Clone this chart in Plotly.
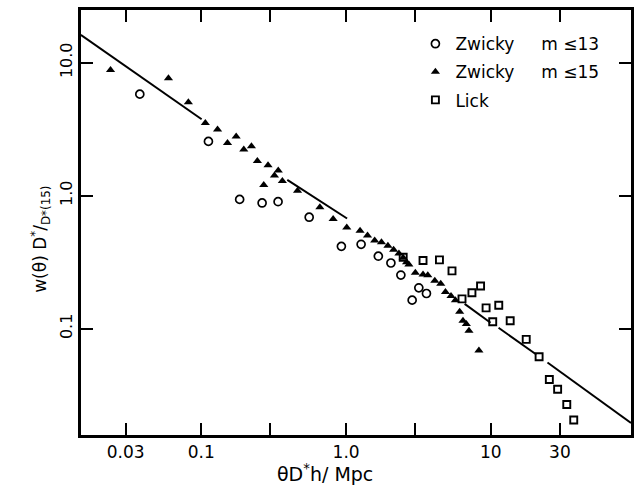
import plotly.graph_objects as go

# Zwicky m<=13 (open circles)
circ_x = [0.0376, 0.112, 0.184, 0.263, 0.339, 0.556, 0.928, 1.27, 1.67, 2.04, 2.39, 2.86, 3.18, 3.59]
circ_y = [5.80, 2.56, 0.938, 0.882, 0.902, 0.689, 0.416, 0.431, 0.351, 0.312, 0.253, 0.164, 0.203, 0.184]

# Zwicky m<=15 (filled triangles)
tri_x = [0.0236, 0.0593, 0.0814, 0.1066, 0.1295, 0.1517, 0.1741, 0.1965, 0.222, 0.244, 0.289,
         0.340, 0.320, 0.363, 0.270, 0.462, 0.659, 0.814, 1.011, 1.249, 1.406, 1.576, 1.755,
         1.945, 2.13, 2.317, 2.48, 2.617, 2.714, 3.008, 3.40, 3.667, 4.10, 4.506, 4.857, 5.305,
         5.69, 6.09, 6.42, 6.77, 7.06, 8.27]
tri_y = [8.82, 7.63, 5.03, 3.52, 3.15, 2.49, 2.79, 2.22, 2.35, 1.825, 1.695,
         1.545, 1.418, 1.287, 1.202, 1.09, 0.818, 0.668, 0.577, 0.545, 0.503, 0.461, 0.446,
         0.421, 0.393, 0.367, 0.342, 0.316, 0.304, 0.264, 0.256, 0.252, 0.229, 0.218, 0.189, 0.176,
         0.164, 0.134, 0.1147, 0.1084, 0.0966, 0.0685]

# Lick (open squares)
sq_x = [2.48, 3.40, 4.415, 5.39, 6.32, 7.40, 8.49, 9.27, 11.34, 10.30, 13.60, 17.55, 21.54,
        25.35, 28.92, 33.45, 37.37]
sq_y = [0.345, 0.326, 0.329, 0.272, 0.1675, 0.1866, 0.2094, 0.1434, 0.1502, 0.1128, 0.1147,
        0.0832, 0.0616, 0.0415, 0.0351, 0.0269, 0.0206]

# Power-law fit line, drawn in broken segments
line_x = [0.0147, 0.1005, None, 0.3926, 1.016, None, 6.59, 9.95, None, 11.3, 20.6, None, 24.6, 92.9]
line_y = [16.2, 3.755, None, 1.316, 0.674, None, 0.1537, 0.111, None, 0.1017, 0.064, None, 0.0557, 0.01955]

x_tickvals = [0.03, 0.1, 0.3, 1, 3, 10, 30]
x_ticktext = ["0.03", "0.1", "", "1.0", "", "10", "30"]
y_tickvals = [0.1, 1, 10]
y_ticktext = ["0.1", "1.0", "10.0"]

legend_names = ["Zwicky&nbsp;&nbsp;&nbsp;&nbsp;&nbsp;m ≤13",
                "Zwicky&nbsp;&nbsp;&nbsp;&nbsp;&nbsp;m ≤15",
                "Lick"]

FONT = "DejaVu Sans"

fig = go.Figure()
fig.add_trace(go.Scatter(x=line_x, y=line_y, mode="lines", line=dict(color="black", width=2),
                         showlegend=False, connectgaps=False))
fig.add_trace(go.Scatter(x=circ_x, y=circ_y, mode="markers", name=legend_names[0], legendgroup="a",
                         marker=dict(symbol="circle-open", size=8, color="black", line=dict(width=1.7))))
fig.add_trace(go.Scatter(x=tri_x, y=tri_y, mode="markers", name=legend_names[1], legendgroup="b",
                         marker=dict(symbol="triangle-up", size=8, color="black")))
fig.add_trace(go.Scatter(x=sq_x, y=sq_y, mode="markers", name=legend_names[2], legendgroup="c",
                         marker=dict(symbol="square-open", size=7, color="black", line=dict(width=1.9))))

axis_common = dict(showline=True, linecolor="black", linewidth=2.5, mirror="ticks",
                   ticks="inside", ticklen=12, tickwidth=2, tickcolor="black",
                   showgrid=False, zeroline=False)

fig.update_xaxes(type="log", range=[-1.831, 1.968], tickvals=x_tickvals, ticktext=x_ticktext,
                 tickfont=dict(family=FONT, size=17, color="black"), **axis_common)
fig.update_yaxes(type="log", range=[-1.799, 1.396], tickvals=y_tickvals, ticktext=y_ticktext,
                 tickangle=-90, tickfont=dict(family=FONT, size=16, color="black"), **axis_common)

fig.update_layout(
    width=641, height=491,
    margin=dict(l=81, r=8, t=7, b=56),
    paper_bgcolor="white", plot_bgcolor="white",
    font=dict(family=FONT, color="black"),
    legend=dict(x=0.608, y=0.962, xanchor="left", yanchor="top",
                font=dict(family=FONT, size=17, color="black"),
                bgcolor="rgba(0,0,0,0)", traceorder="grouped", tracegroupgap=3),
    annotations=[
        dict(text="θD<sup>*</sup>h/ Mpc", xref="paper", yref="paper", x=0.444, y=-0.089,
             xanchor="center", yanchor="middle", showarrow=False,
             font=dict(family=FONT, size=19, color="black")),
        dict(text="w(θ) D<sup>*</sup>/<sub>D*(15)</sub>", xref="paper", yref="paper", x=-0.074, y=0.46,
             xanchor="center", yanchor="middle", showarrow=False, textangle=-90,
             font=dict(family=FONT, size=17, color="black")),
    ],
)

fig.write_html("out.html")
